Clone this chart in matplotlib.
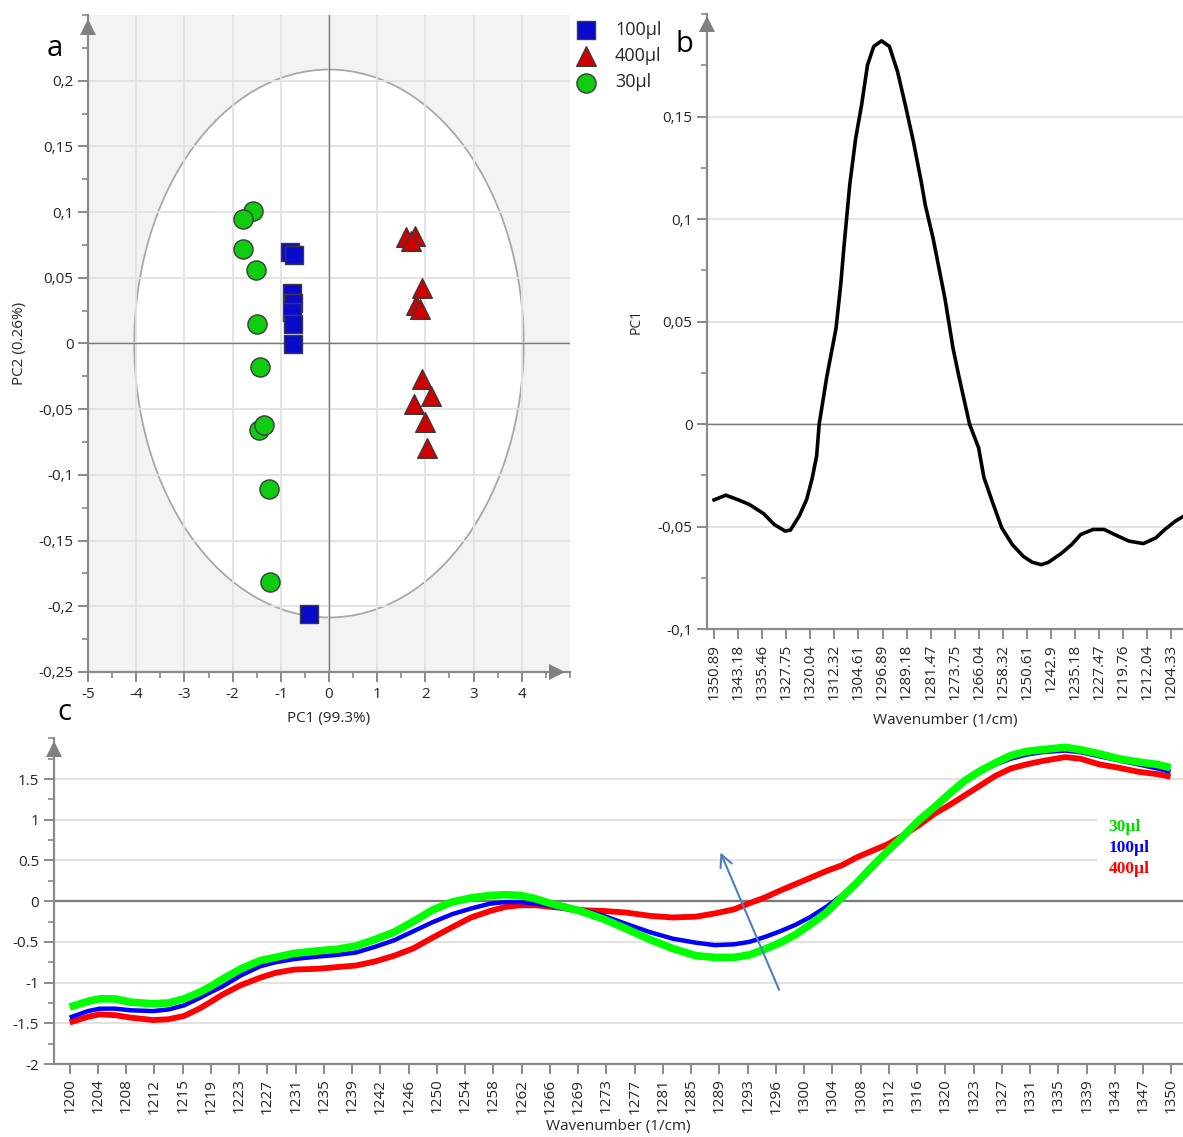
import numpy as np
import matplotlib
matplotlib.use("Agg")
import matplotlib.pyplot as plt
from matplotlib.patches import Ellipse, Rectangle
from matplotlib.ticker import FuncFormatter, MultipleLocator, FixedLocator

plt.rcParams['font.family'] = ['Open Sans', 'DejaVu Sans']

# ---- (a) PCA scores ----
pc1_100 = [-0.81, -0.73, -0.77, -0.74, -0.77, -0.74, -0.74, -0.41]
pc2_100 = [0.070, 0.0675, 0.0388, 0.0307, 0.0236, 0.0147, -0.0005, -0.2062]
pc1_400 = [1.59, 1.78, 1.71, 1.94, 1.80, 1.88, 1.93, 2.11, 1.76, 1.99, 2.03]
pc2_400 = [0.0807, 0.0815, 0.0782, 0.0419, 0.0292, 0.0261, -0.0273, -0.0401, -0.0464, -0.0599, -0.0798]
pc1_30 = [-1.58, -1.78, -1.78, -1.52, -1.50, -1.44, -1.45, -1.35, -1.25, -1.22]
pc2_30 = [0.1008, 0.0947, 0.0718, 0.0558, 0.0145, -0.0178, -0.0655, -0.0617, -0.1108, -0.1813]
ellipse_semi = (4.04, 0.2085)  # Hotelling T2 95%

# ---- (b) PC1 loadings ----
wn_b = [1350.89, 1347.1, 1343.1, 1339.6, 1335.0, 1331.6, 1328.1, 1326.4, 1323.6, 1321.2,
        1319.5, 1318.0, 1317.2, 1314.75, 1311.8, 1310.2, 1309.3, 1307.4, 1305.5, 1303.6,
        1301.7, 1299.7, 1297.2, 1294.7, 1292.1, 1289.6, 1287.0, 1284.5, 1283.2, 1280.7,
        1276.9, 1274.3, 1272.4, 1269.0, 1266.1, 1264.4, 1261.6, 1258.7, 1255.3, 1251.8,
        1248.9, 1246.0, 1243.7, 1239.7, 1236.3, 1233.4, 1229.4, 1225.9, 1222.5, 1217.9,
        1213.3, 1209.3, 1206.4, 1203.0, 1200.9]
load_b = [-0.0369, -0.0346, -0.0369, -0.0391, -0.0436, -0.0489, -0.0521, -0.0516, -0.0448, -0.0366,
          -0.0268, -0.0154, 0.0, 0.0232, 0.0467, 0.0695, 0.0858, 0.1167, 0.1394, 0.1557,
          0.1752, 0.1842, 0.1869, 0.1842, 0.1720, 0.1557, 0.1378, 0.1183, 0.1069, 0.0907,
          0.0614, 0.0370, 0.0232, 0.0, -0.0115, -0.026, -0.0382, -0.0505, -0.0587, -0.0644,
          -0.0673, -0.0685, -0.0673, -0.0631, -0.0587, -0.0538, -0.0513, -0.0513, -0.0538, -0.0570,
          -0.0582, -0.0554, -0.0513, -0.0472, -0.0453]
ticks_b = ["1350.89", "1343.18", "1335.46", "1327.75", "1320.04", "1312.32", "1304.61",
           "1296.89", "1289.18", "1281.47", "1273.75", "1266.04", "1258.32", "1250.61",
           "1242.9", "1235.18", "1227.47", "1219.76", "1212.04", "1204.33"]

# ---- (c) spectra ----
wn_c_left = [1200, 1202.5, 1204.1, 1206.2, 1208.3, 1211.4, 1213.5, 1215.6, 1217.7, 1219.2,
             1220.8, 1223.4, 1226.0, 1228.1, 1230.7, 1233.9, 1236.5, 1239.1, 1241.7, 1244.3,
             1246.9, 1249.5, 1252.2, 1254.8, 1257.4, 1259.5, 1261.6, 1263.6, 1265.7, 1268.4]
wn_c_right = [1269.7, 1272.9, 1276.0, 1279.2, 1282.3, 1285.5, 1288.1, 1290.7, 1292.8, 1294.9,
              1297.0, 1299.1, 1301.2, 1303.3, 1305.4, 1307.5, 1309.6, 1311.7, 1313.8, 1315.9,
              1318.0, 1320.1, 1322.2, 1324.3, 1326.4, 1328.5, 1330.6, 1332.7, 1335.9, 1338.0,
              1340.6, 1343.2, 1345.9, 1348.5, 1350.3]
wn_c = wn_c_left + wn_c_right
spec_30 = [-1.30, -1.23, -1.20, -1.20, -1.24, -1.26, -1.25, -1.20, -1.12, -1.05,
           -0.96, -0.83, -0.73, -0.69, -0.64, -0.61, -0.59, -0.55, -0.47, -0.38,
           -0.25, -0.11, -0.01, 0.04, 0.07, 0.08, 0.07, 0.03, -0.03, -0.09,
           -0.12, -0.22, -0.34, -0.47, -0.58, -0.67, -0.69, -0.69, -0.66, -0.59,
           -0.51, -0.41, -0.28, -0.14, 0.045, 0.23, 0.43, 0.62, 0.80, 0.99,
           1.15, 1.32, 1.48, 1.60, 1.70, 1.79, 1.84, 1.86, 1.89, 1.86,
           1.81, 1.75, 1.71, 1.68, 1.64]
spec_100 = [-1.43, -1.35, -1.32, -1.32, -1.34, -1.35, -1.33, -1.28, -1.19, -1.12,
            -1.05, -0.91, -0.80, -0.75, -0.71, -0.68, -0.66, -0.63, -0.56, -0.48,
            -0.37, -0.26, -0.16, -0.09, -0.03, -0.01, -0.01, -0.03, -0.06, -0.11,
            -0.10, -0.18, -0.28, -0.38, -0.46, -0.51, -0.54, -0.53, -0.50, -0.44,
            -0.37, -0.29, -0.19, -0.07, 0.07, 0.24, 0.44, 0.63, 0.81, 0.99,
            1.16, 1.32, 1.47, 1.59, 1.68, 1.75, 1.80, 1.83, 1.85, 1.83,
            1.78, 1.73, 1.68, 1.63, 1.59]
spec_400 = [-1.49, -1.42, -1.39, -1.40, -1.43, -1.46, -1.45, -1.41, -1.32, -1.24,
            -1.15, -1.03, -0.94, -0.88, -0.84, -0.83, -0.81, -0.79, -0.74, -0.67,
            -0.58, -0.45, -0.32, -0.20, -0.12, -0.07, -0.05, -0.05, -0.07, -0.09,
            -0.11, -0.12, -0.14, -0.18, -0.20, -0.19, -0.15, -0.10, -0.025, 0.045,
            0.13, 0.21, 0.29, 0.37, 0.44, 0.54, 0.62, 0.70, 0.81, 0.93,
            1.07, 1.18, 1.30, 1.42, 1.54, 1.63, 1.68, 1.72, 1.77, 1.75,
            1.68, 1.64, 1.59, 1.56, 1.53]
ticks_c = ["1200", "1204", "1208", "1212", "1215", "1219", "1223", "1227", "1231", "1235",
           "1239", "1242", "1246", "1250", "1254", "1258", "1262", "1266", "1269", "1273",
           "1277", "1281", "1285", "1289", "1293", "1296", "1300", "1304", "1308", "1312",
           "1316", "1320", "1323", "1327", "1331", "1335", "1339", "1343", "1347", "1350"]

AXIS_GREY = '#8a8a8a'
GRID = '#e2e2e2'
TXT = '#262626'


def style_axes(ax):
    for s in ('top', 'right'):
        ax.spines[s].set_visible(False)
    for s in ('left', 'bottom'):
        ax.spines[s].set_color(AXIS_GREY)
        ax.spines[s].set_linewidth(1.6)
    ax.tick_params(which='major', length=7, width=1.4, color=AXIS_GREY, labelsize=11, labelcolor=TXT)
    ax.tick_params(which='minor', length=4, width=1.2, color=AXIS_GREY)


def arrow_head(ax, x, y, marker):
    ax.plot(x, y, marker=marker, transform=ax.transAxes, clip_on=False,
            color='#808080', ms=11, mew=0, zorder=10)


comma = FuncFormatter(lambda v, p: f"{v:g}".replace('.', ','))

fig = plt.figure(figsize=(11.83, 11.37), dpi=100)

# ======== a ========
ax_a = fig.add_axes([0.0744, 0.4090, 0.4074, 0.5778])
style_axes(ax_a)
ax_a.set_facecolor('#f3f3f3')
ax_a.add_patch(Ellipse((0, 0), 2 * ellipse_semi[0], 2 * ellipse_semi[1],
                       facecolor='white', edgecolor='#a8a8a8', lw=1.3, zorder=0.2))
ax_a.set_axisbelow(True)
ax_a.grid(True, color=GRID, lw=1.3)
ax_a.axhline(0, color='#7a7a7a', lw=1.0, zorder=1)
ax_a.axvline(0, color='#7a7a7a', lw=1.0, zorder=1)
ax_a.scatter(pc1_100, pc2_100, marker='s', s=150, c='#0a0acc', edgecolors='#3a3a3a', lw=1, zorder=3, label='100µl')
ax_a.scatter(pc1_400, pc2_400, marker='^', s=200, c='#d00000', edgecolors='#3a3a3a', lw=1, zorder=3, label='400µl')
ax_a.scatter(pc1_30, pc2_30, marker='o', s=190, c='#10cc10', edgecolors='#3a3a3a', lw=1, zorder=3, label='30µl')
ax_a.set_xlim(-5, 5)
ax_a.set_ylim(-0.25, 0.25)
ax_a.xaxis.set_major_locator(FixedLocator([-5, -4, -3, -2, -1, 0, 1, 2, 3, 4]))
ax_a.xaxis.set_minor_locator(MultipleLocator(0.5))
ax_a.yaxis.set_major_locator(FixedLocator([-0.25, -0.2, -0.15, -0.1, -0.05, 0, 0.05, 0.1, 0.15, 0.2]))
ax_a.yaxis.set_minor_locator(MultipleLocator(0.025))
ax_a.yaxis.set_major_formatter(comma)
ax_a.xaxis.set_major_formatter(FuncFormatter(lambda v, p: f"{v:g}"))
ax_a.set_xlabel('PC1 (99.3%)', fontsize=11, color=TXT, labelpad=7)
ax_a.set_ylabel('PC2 (0.26%)', fontsize=11, color=TXT, labelpad=8)
arrow_head(ax_a, 0, 0.982, '^')
arrow_head(ax_a, 0.973, 0, '>')
ax_a.legend(loc='upper left', bbox_to_anchor=(568 / 1183, 1 - 21 / 1137),
            bbox_transform=fig.transFigure, frameon=False, fontsize=13,
            handletextpad=0.6, labelspacing=0.45, borderpad=0, borderaxespad=0,
            scatterpoints=1, labelcolor=TXT)

# ======== b ========
ax_b = fig.add_axes([0.5976, 0.4465, 0.4024, 0.5412])
style_axes(ax_b)
ax_b.set_axisbelow(True)
ax_b.grid(True, axis='y', color=GRID, lw=1.3)
ax_b.axhline(0, color='#7a7a7a', lw=1.0, zorder=1)
ax_b.plot(wn_b, load_b, color='black', lw=2.6, zorder=3)
ax_b.set_xlim(1353.16, 1200.6)
ax_b.set_ylim(-0.1, 0.2)
ax_b.set_xticks([float(t) for t in ticks_b])
ax_b.set_xticklabels(ticks_b, rotation=90)
ax_b.yaxis.set_major_locator(FixedLocator([-0.1, -0.05, 0, 0.05, 0.1, 0.15]))
ax_b.yaxis.set_minor_locator(MultipleLocator(0.025))
ax_b.yaxis.set_major_formatter(comma)
ax_b.set_xlabel('Wavenumber (1/cm)', fontsize=11, color=TXT, labelpad=9)
ax_b.set_ylabel('PC1', fontsize=10, color=TXT, labelpad=10)
arrow_head(ax_b, 0, 0.984, '^')

# ======== c ========
ax_c = fig.add_axes([0.0453, 0.0642, 0.9547, 0.2864])
style_axes(ax_c)
ax_c.set_axisbelow(True)
ax_c.grid(True, axis='y', color=GRID, lw=1.5)
ax_c.axhline(0, color='#7a7a7a', lw=1.6, zorder=1)
ax_c.add_patch(Rectangle((1340.3, 0.3), 15, 0.85, facecolor='white', edgecolor='none', zorder=1.5))
ax_c.plot(wn_c, spec_400, color='#ff0000', lw=4.2, zorder=3, solid_capstyle='butt')
ax_c.plot(wn_c, spec_100, color='#0000ff', lw=3.2, zorder=4, solid_capstyle='butt')
ax_c.plot(wn_c, spec_30, color='#00ff00', lw=5.5, zorder=5, solid_capstyle='butt')
ax_c.set_xlim(1197.8, 1352.0)
ax_c.set_ylim(-2, 2)
ax_c.set_xticks([1200 + i * 27 / 7 for i in range(len(ticks_c))])
ax_c.set_xticklabels(ticks_c, rotation=90)
ax_c.yaxis.set_major_locator(FixedLocator([-2, -1.5, -1, -0.5, 0, 0.5, 1, 1.5]))
ax_c.yaxis.set_minor_locator(MultipleLocator(0.25))
ax_c.yaxis.set_major_formatter(FuncFormatter(lambda v, p: f"{v:g}"))
ax_c.set_xlabel('Wavenumber (1/cm)', fontsize=11, color=TXT, labelpad=4)
arrow_head(ax_c, 0, 0.966, '^')
ax_c.annotate('', xy=(1288.7, 0.63), xytext=(1297.0, -1.12),
              arrowprops=dict(arrowstyle='->', color='#4f7fbf', lw=1.5, mutation_scale=22), zorder=6)
for lab, col, yv in [('30µl', '#00dd00', 0.91), ('100µl', '#0000ff', 0.65), ('400µl', '#ff0000', 0.40)]:
    ax_c.text(1341.8, yv, lab, color=col, fontsize=12.5, fontweight='bold',
              family=['Liberation Serif', 'DejaVu Serif'], ha='left', va='center', zorder=6)

# panel letters
fig.text(55 / 1183, 1 - 48 / 1137, 'a', fontsize=21, ha='center', va='center')
fig.text(684 / 1183, 1 - 45 / 1137, 'b', fontsize=21, ha='center', va='center')
fig.text(64 / 1183, 1 - 712 / 1137, 'c', fontsize=21, ha='center', va='center')

fig.savefig('out.png', dpi=100, facecolor='white')
